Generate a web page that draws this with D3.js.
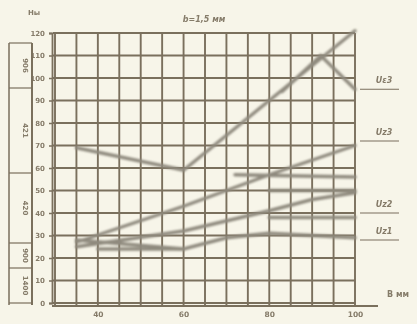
<!DOCTYPE html>
<html><head><meta charset="utf-8">
<script src="https://cdn.jsdelivr.net/npm/d3@7"></script>
<style>
html,body{margin:0;padding:0;background:#f7f5e9;}
svg{display:block;}
text{font-family:"DejaVu Sans",sans-serif;}
</style></head>
<body><div id="chart"></div>
<script>
// ---- data ----
const xTicks = [40, 60, 80, 100];
const yTicks = [0, 10, 20, 30, 40, 50, 60, 70, 80, 90, 100, 110, 120];
const xGrid = [30, 35, 40, 45, 50, 55, 60, 65, 70, 75, 80, 85, 90, 95, 100];
const seriesNames = ["Uε3", "Uz3", "Uz2", "Uz1"];
const ue3Main = [[35, 69], [60, 59], [100, 121]];
const ue3Peak = [[83, 94], [92, 110], [100, 95]];
const uz3Rise = [[35, 27], [60, 43], [80, 57], [100, 70]];
const uz3Flat = [[72, 57], [100, 56]];
const uz3Flat2 = [[80, 50], [100, 50]];
const uz2Rise = [[35, 25], [60, 32], [80, 41], [90, 46], [100, 49]];
const uz2Flat = [[80, 38], [100, 38]];
const uz1Line = [[35, 28], [60, 24], [70, 29], [80, 31], [100, 29]];
const uz1Flat = [[40, 24], [60, 24]];
const labelValues = [95, 72, 40, 28];
const tableLabels = ["906", "421", "420", "900", "1400"];

// ---- layout ----
const W = 417, H = 324;
const svg = d3.select("#chart").append("svg").attr("width", W).attr("height", H);
const x = d3.scaleLinear().domain([30, 100]).range([55, 355]);
const y = d3.scaleLinear().domain([0, 120]).range([303, 33]);
const gridCol = "#7a6f5d", curveCol = "#8f8a7e", textCol = "#857b69";

const defs = svg.append("defs");
defs.append("filter").attr("id", "blur").append("feGaussianBlur").attr("stdDeviation", 0.9);
defs.append("filter").attr("id", "soft").append("feGaussianBlur").attr("stdDeviation", 0.35);

const g = svg.append("g").attr("filter", "url(#soft)");

// grid
g.selectAll("line.vg").data(xGrid).enter().append("line")
  .attr("x1", d => x(d)).attr("x2", d => x(d)).attr("y1", y(120)).attr("y2", y(0) + 2)
  .attr("stroke", gridCol).attr("stroke-width", 1.9);
g.selectAll("line.hg").data(yTicks).enter().append("line")
  .attr("x1", x(30) - 2).attr("x2", x(100)).attr("y1", d => y(d)).attr("y2", d => y(d))
  .attr("stroke", gridCol).attr("stroke-width", 1.9);

// axes
const yAxis = d3.axisLeft(y).tickValues(yTicks).tickSize(3).tickFormat(d3.format("d"));
const ya = g.append("g").attr("transform", `translate(${x(30) - 3},0)`).call(yAxis);
ya.select(".domain").attr("stroke", gridCol).attr("stroke-width", 1.8);
ya.selectAll(".tick line").attr("stroke", gridCol).attr("stroke-width", 1.5);
ya.selectAll("text").attr("fill", textCol).attr("font-size", 7).attr("font-weight", "bold").attr("dx", -1);

const xAxis = d3.axisBottom(x).tickValues(xTicks).tickSize(0).tickFormat(d3.format("d"));
const xa = g.append("g").attr("transform", `translate(0,${y(0) + 3})`).call(xAxis);
xa.select(".domain").remove();
xa.selectAll("text").attr("fill", textCol).attr("font-size", 7.5).attr("font-weight", "bold").attr("dy", 8);
g.append("line").attr("x1", x(30) - 3).attr("x2", 378).attr("y1", y(0) + 3).attr("y2", y(0) + 3)
  .attr("stroke", gridCol).attr("stroke-width", 2);

// curves
const line = d3.line().x(d => x(d[0])).y(d => y(d[1]));
const curves = [ue3Main, ue3Peak, uz3Rise, uz3Flat, uz3Flat2, uz2Rise, uz2Flat, uz1Line, uz1Flat];
svg.append("g").attr("filter", "url(#blur)").selectAll("path").data(curves).enter().append("path")
  .attr("d", line).attr("fill", "none").attr("stroke", curveCol).attr("stroke-width", 3.4)
  .attr("stroke-linecap", "round");

// series labels with underline
const lab = g.selectAll("g.lab").data(seriesNames).enter().append("g");
lab.append("line").attr("x1", 360).attr("x2", 399)
  .attr("y1", (d, i) => y(labelValues[i])).attr("y2", (d, i) => y(labelValues[i]))
  .attr("stroke", gridCol).attr("stroke-width", 1.2);
lab.append("text").attr("x", 384).attr("y", (d, i) => y(labelValues[i]) - 6)
  .attr("text-anchor", "middle").attr("font-size", 8).attr("font-style", "italic").attr("font-weight", "bold")
  .attr("fill", textCol).text(d => d);

// titles
g.append("text").attr("x", 204).attr("y", 22).attr("text-anchor", "middle").attr("font-size", 8)
  .attr("font-style", "italic").attr("font-weight", "bold").attr("fill", textCol).text("b=1,5 мм");
g.append("text").attr("x", 34).attr("y", 15).attr("text-anchor", "middle").attr("font-size", 7)
  .attr("fill", textCol).attr("font-weight", "bold").text("Ны");
g.append("text").attr("x", 398).attr("y", 297).attr("text-anchor", "middle").attr("font-size", 8)
  .attr("fill", textCol).attr("font-weight", "bold").text("B мм");

// left table
const tb = [43, 88, 173, 243, 268, 303];
const tg = g.append("g");
tg.append("line").attr("x1", 9).attr("x2", 9).attr("y1", tb[0]).attr("y2", tb[5] + 2).attr("stroke", gridCol).attr("stroke-width", 1.5);
tg.append("line").attr("x1", 32).attr("x2", 32).attr("y1", tb[0]).attr("y2", tb[5] + 2).attr("stroke", gridCol).attr("stroke-width", 2);
tg.selectAll("line.tb").data(tb).enter().append("line").attr("x1", 9).attr("x2", 32)
  .attr("y1", d => d).attr("y2", d => d).attr("stroke", gridCol).attr("stroke-width", 1.2);
tg.selectAll("text.tl").data(tableLabels).enter().append("text")
  .attr("transform", (d, i) => `translate(23,${(tb[i] + tb[i + 1]) / 2}) rotate(90)`)
  .attr("text-anchor", "middle").attr("font-size", 7).attr("font-weight", "bold").attr("fill", textCol).text(d => d);
</script></body></html>
